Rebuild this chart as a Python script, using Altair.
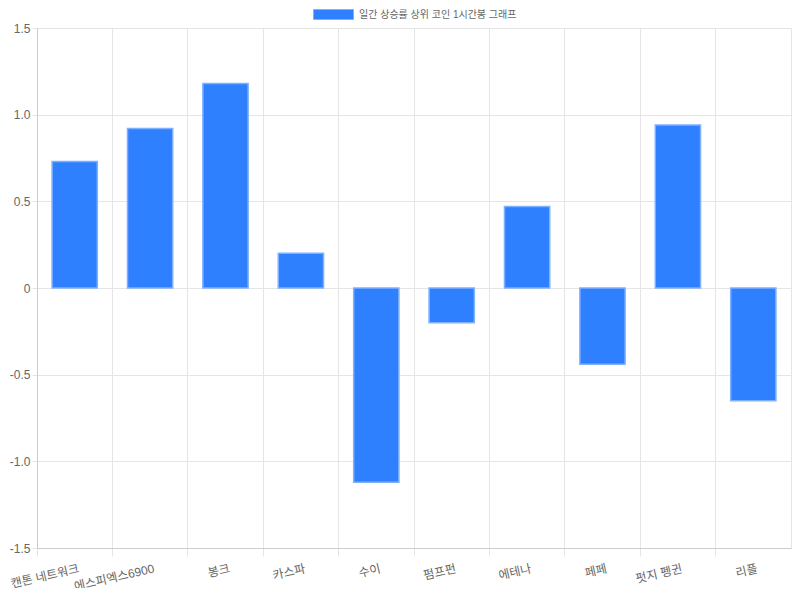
import altair as alt
import pandas as pd

categories = ["캔톤 네트워크", "에스피엑스6900", "봉크", "카스파", "수이",
              "펌프펀", "에테나", "페페", "펏지 펭귄", "리플"]
values = [0.73, 0.92, 1.18, 0.20, -1.12, -0.20, 0.47, -0.44, 0.94, -0.65]
series_name = "일간 상승률 상위 코인 1시간봉 그래프"
y_ticks = [-1.5, -1.0, -0.5, 0.0, 0.5, 1.0, 1.5]

df = pd.DataFrame({"coin": categories, "change": values, "series": series_name})

FONT = "Liberation Sans, Noto Sans CJK KR, sans-serif"
GRID = "#e5e5e5"
LABEL = "#666666"

chart = alt.Chart(df).mark_bar(
    width=alt.RelativeBandSize(0.6),
    stroke="#7fb0ff",
    strokeWidth=1.5,
).encode(
    x=alt.X("coin:N", sort=categories, title=None,
            scale=alt.Scale(paddingInner=0, paddingOuter=0),
            axis=alt.Axis(bandPosition=0, labelAngle=-13, labelOffset=3,
                          labelAlign="right", labelBaseline="top",
                          labelPadding=7, tickSize=8, tickColor=GRID,
                          grid=True, gridColor=GRID, domainColor="#cccccc",
                          labelColor=LABEL, labelFontSize=12, labelFont=FONT)),
    y=alt.Y("change:Q", title=None,
            scale=alt.Scale(domain=[-1.5, 1.5], nice=False),
            axis=alt.Axis(values=y_ticks, tickSize=5, tickColor=GRID,
                          labelPadding=2, gridColor=GRID, domainColor="#cccccc",
                          labelColor=LABEL, labelFontSize=12, labelFont=FONT,
                          labelExpr="datum.value == 0 ? '0' : (datum.value < 0 ? '-' : '') + format(abs(datum.value), '.1f')")),
    color=alt.Color("series:N", scale=alt.Scale(range=["#2f80ff"]),
                    legend=alt.Legend(orient="none", legendX=286, legendY=-24,
                                      title=None,
                                      symbolType="M-2,-0.5H2V0.5H-2Z",
                                      symbolSize=400, symbolStrokeColor="#7fb0ff",
                                      symbolStrokeWidth=1, symbolOpacity=1,
                                      labelOffset=15, labelFontSize=10,
                                      labelColor=LABEL, labelFont=FONT)),
).properties(
    width=754, height=520,
    autosize=alt.AutoSizeParams(type="none"),
    padding={"left": 29, "top": 20, "right": 1, "bottom": 40},
).configure_view(stroke=GRID)

chart.save("out.html", embed_options={"renderer": "svg", "actions": False})
